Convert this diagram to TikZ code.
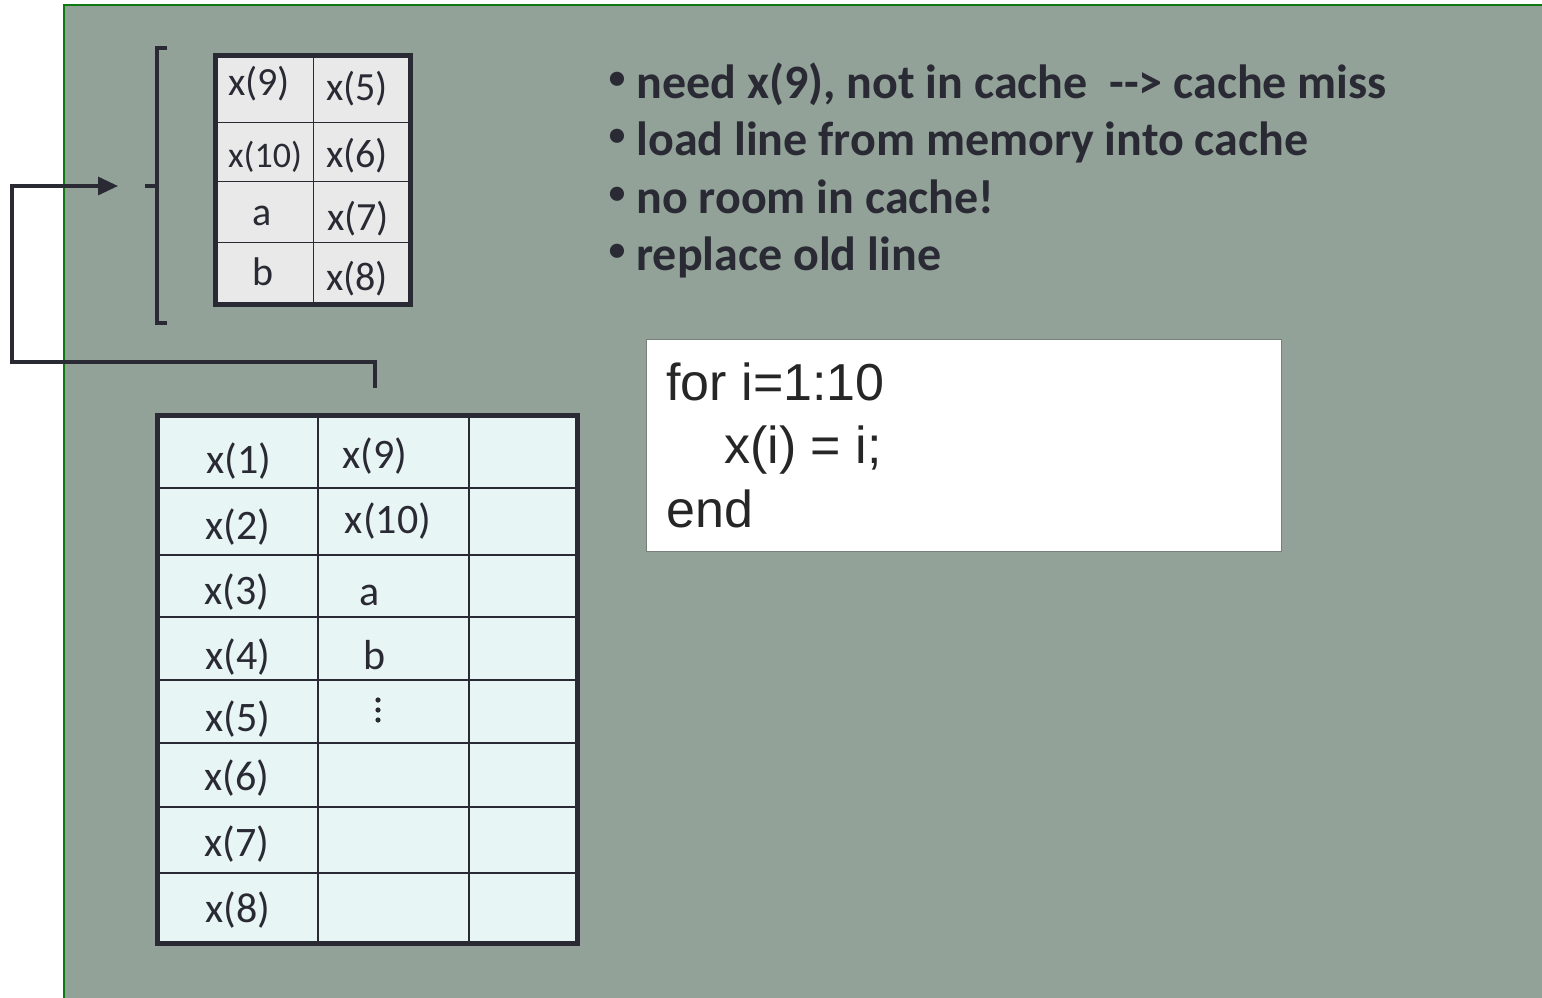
\documentclass[tikz,border=0pt]{standalone}
\usepackage{fontspec}
\setmainfont{Carlito}
\newfontfamily\arialf{Liberation Sans}
\usetikzlibrary{arrows.meta}
\definecolor{bg}{RGB}{146,162,152}
\definecolor{framegreen}{RGB}{16,120,16}
\definecolor{ink}{RGB}{42,42,52}
\definecolor{cachefill}{RGB}{232,233,232}
\definecolor{memfill}{RGB}{232,245,245}
\definecolor{codeborder}{RGB}{120,128,122}
\tikzset{
  cachetxt/.style={anchor=base, inner sep=0pt, text=ink, font=\fontsize{20}{24}\selectfont},
  cachesmall/.style={cachetxt, font=\fontsize{18}{22}\selectfont},
  memtxt/.style={anchor=base, inner sep=0pt, text=ink, font=\fontsize{21}{25}\selectfont},
  bullettxt/.style={anchor=base west, inner sep=0pt, text=ink, font=\fontsize{24}{28}\selectfont\bfseries},
  bulletdot/.style={anchor=center, inner sep=0pt, text=ink, font=\fontsize{20}{24}\selectfont},
  codetxt/.style={anchor=base west, inner sep=0pt, text=black!85, font=\arialf\fontsize{26}{30}\selectfont},
  conn/.style={draw=ink, line width=1.6pt},
  thinline/.style={draw=ink, line width=0.5pt},
  memline/.style={draw=ink, line width=0.9pt},
}
\begin{document}
\begin{tikzpicture}[x=0.5pt,y=-0.5pt]
\useasboundingbox (0,0) rectangle (1542,997);
% background panel
\fill[bg] (64,5) rectangle (1546,1001);
\draw[framegreen, line width=1pt] (64,1001) -- (64,5) -- (1546,5);

% cache table
\node[fill=cachefill, minimum width=97.5pt, minimum height=124.5pt, inner sep=0pt, anchor=north west] (cache) at (215,55) {};
\draw[thinline] (313,55) -- (313,304);
\draw[thinline] (215,122) -- (410,122);
\draw[thinline] (215,181) -- (410,181);
\draw[thinline] (215,242) -- (410,242);
\draw[ink, line width=2.5pt] (215,55) rectangle (410,304);
\node[cachetxt] (c1) at (259,95) {x(9)};
\node[cachetxt] (c2) at (357,100) {x(5)};
\node[cachesmall] (c3) at (265,167) {x(10)};
\node[cachetxt] (c4) at (357,167) {x(6)};
\node[cachetxt] (c5) at (262,225) {a};
\node[cachetxt] (c6) at (358,230) {x(7)};
\node[cachetxt] (c7) at (263,285) {b};
\node[cachetxt] (c8) at (357,290) {x(8)};

% bracket
\coordinate (brtop) at (167,48);
\coordinate (brbot) at (167,323);
\coordinate (brmid) at (145,186);
\draw[conn] (brtop) -- (157,48) -- (157,323) -- (brbot);
\draw[conn] (brmid) -- (157,186);

% memory table
\node[fill=memfill, minimum width=210pt, minimum height=264pt, inner sep=0pt, anchor=north west] (mem) at (157,415) {};
\draw[memline] (318,415) -- (318,943);
\draw[memline] (469,415) -- (469,943);
\foreach \yy in {488,555,617,680,743,807,873}{
  \draw[memline] (157,\yy) -- (577,\yy);
}
\draw[ink, line width=2.5pt] (157,415) rectangle (577,943);
\node[memtxt] (m1) at (239,473) {x(1)};
\node[memtxt] (m2) at (238,539) {x(2)};
\node[memtxt] (m3) at (237,604) {x(3)};
\node[memtxt] (m4) at (238,669) {x(4)};
\node[memtxt] (m5) at (238,731) {x(5)};
\node[memtxt] (m6) at (237,790) {x(6)};
\node[memtxt] (m7) at (237,856) {x(7)};
\node[memtxt] (m8) at (238,922) {x(8)};
\node[memtxt] (n1) at (375,468) {x(9)};
\node[memtxt] (n2) at (388,533) {x(10)};
\node[memtxt] (n3) at (370,605) {a};
\node[memtxt] (n4) at (375,669) {b};
\foreach \yy in {700,710,720}{
  \fill[ink] (378,\yy) circle (1.3pt);
}

% connector from memory line to cache
\coordinate (memtop) at (375,388);
\coordinate (arrowend) at (118,186);
\draw[conn, -{Triangle[length=10pt,width=9pt]}] (memtop) -- (375,362) -- (12,362) -- (12,186) -- (arrowend);

% bullets
\node[bulletdot] (b1) at (617,81) {•};
\node[bullettxt] (t1) at (636,98) {need x(9), not in cache\ \ {-}{-}> cache miss};
\node[bulletdot] (b2) at (617,138.5) {•};
\node[bullettxt] (t2) at (636,155.5) {load line from memory into cache};
\node[bulletdot] (b3) at (617,196) {•};
\node[bullettxt] (t3) at (636,213) {no room in cache!};
\node[bulletdot] (b4) at (617,253.5) {•};
\node[bullettxt] (t4) at (636,270.5) {replace old line};

% code box
\node[draw=codeborder, fill=white, line width=0.7pt, minimum width=317.5pt, minimum height=106pt, inner sep=0pt, anchor=north west] (code) at (646,339) {};
\node[codetxt] (k1) at (666,400) {for i=1:10};
\node[codetxt] (k2) at (724,463) {x(i) = i;};
\node[codetxt] (k3) at (666,527) {end};
\end{tikzpicture}
\end{document}
